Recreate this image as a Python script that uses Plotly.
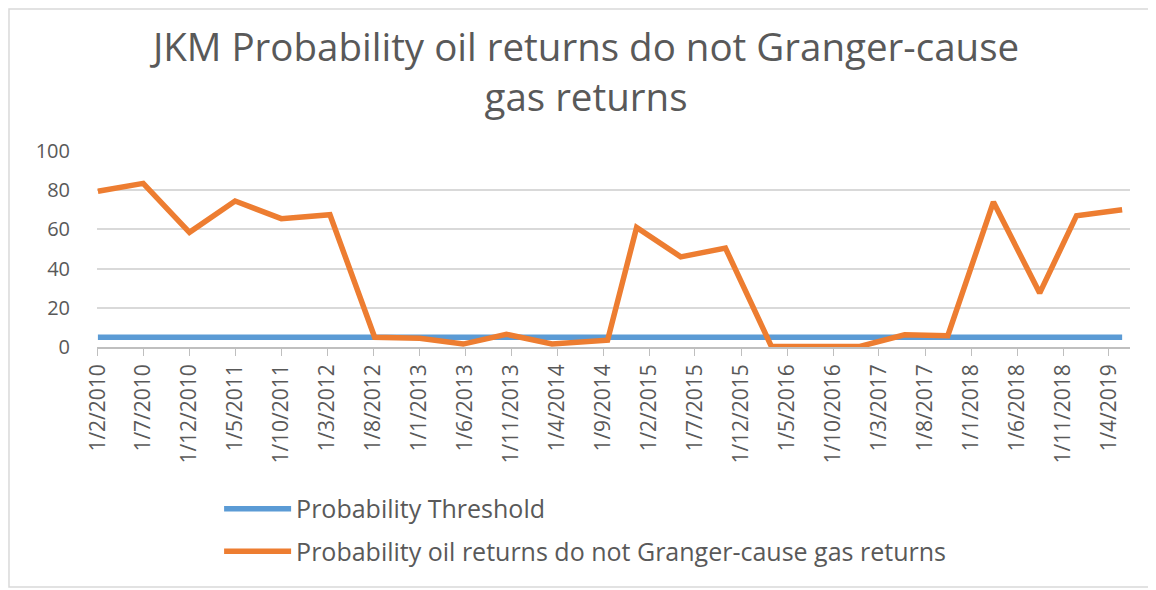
import plotly.graph_objects as go

# ---- data ----
point_dates = ["2010-02-01", "2010-07-01", "2010-12-01", "2011-05-01", "2011-10-01",
               "2012-03-10", "2012-08-05", "2013-01-01", "2013-05-25", "2013-10-15",
               "2014-03-15", "2014-09-15", "2014-12-20", "2015-05-15", "2015-10-10",
               "2016-03-10", "2016-08-05", "2016-12-28", "2017-05-25", "2017-10-15",
               "2018-03-15", "2018-08-15", "2018-12-15", "2019-05-15"]
prob_oil = [79.5, 83.5, 58.5, 74.5, 65.5, 67.5, 5, 4.5, 1.5, 6.5, 1.5, 3.5,
            61, 46, 50.5, 0.3, 0.2, 0.3, 6.2, 5.8, 74, 27.5, 67, 70]
threshold = [5, 5, 5, 5, 5, 5, 5, 5, 5, 5, 5, 5,
             5, 5, 5, 5, 5, 5, 5, 5, 5, 5, 5, 5]

tick_dates = ["2010-02-01", "2010-07-01", "2010-12-01", "2011-05-01", "2011-10-01",
              "2012-03-01", "2012-08-01", "2013-01-01", "2013-06-01", "2013-11-01",
              "2014-04-01", "2014-09-01", "2015-02-01", "2015-07-01", "2015-12-01",
              "2016-05-01", "2016-10-01", "2017-03-01", "2017-08-01", "2018-01-01",
              "2018-06-01", "2018-11-01", "2019-04-01"]
tick_labels = ["1/2/2010", "1/7/2010", "1/12/2010", "1/5/2011", "1/10/2011",
               "1/3/2012", "1/8/2012", "1/1/2013", "1/6/2013", "1/11/2013",
               "1/4/2014", "1/9/2014", "1/2/2015", "1/7/2015", "1/12/2015",
               "1/5/2016", "1/10/2016", "1/3/2017", "1/8/2017", "1/1/2018",
               "1/6/2018", "1/11/2018", "1/4/2019"]
y_ticks = [0, 20, 40, 60, 80, 100]

title_text = "JKM Probability oil returns do not Granger-cause<br>gas returns"
name_threshold = "Probability Threshold"
name_oil = "Probability oil returns do not Granger-cause gas returns"

FONT = "'Open Sans', Lato, sans-serif"
GRAY = "#595959"

fig = go.Figure()
fig.add_trace(go.Scatter(x=point_dates, y=threshold, mode="lines", name=name_threshold,
                         line=dict(color="#5b9bd5", width=5.5), legendgroup="a"))
fig.add_trace(go.Scatter(x=point_dates, y=prob_oil, mode="lines", name=name_oil,
                         line=dict(color="#ed7d31", width=5.5), legendgroup="b"))

fig.update_layout(
    width=1156, height=590,
    paper_bgcolor="white", plot_bgcolor="white",
    margin=dict(l=89, r=34, t=143, b=251),
    font=dict(family=FONT, color=GRAY),
    title=dict(text=title_text, x=0.5, xanchor="center", xref="container",
               y=0.911, yanchor="top",
               font=dict(family=FONT, size=38.5, color=GRAY)),
    showlegend=True,
    legend=dict(x=0.1182, y=-0.709, xanchor="left", yanchor="top",
                font=dict(size=25, color=GRAY), itemwidth=67,
                tracegroupgap=7, traceorder="grouped",
                bgcolor="rgba(0,0,0,0)"),
    shapes=[dict(type="rect", xref="paper", yref="paper",
                 x0=-0.0852, x1=1.0194, y0=-1.2245, y1=1.7245,
                 line=dict(color="#d9d9d9", width=1.5), layer="below")],
)
fig.update_xaxes(
    type="date", range=["2010-01-29", "2019-06-10"],
    tickmode="array", tickvals=tick_dates, ticktext=tick_labels,
    tickangle=-90, tickfont=dict(size=21, color=GRAY),
    showgrid=False, showline=True, linecolor="#bfbfbf", linewidth=1.5,
    ticks="outside", ticklen=7, tickcolor="#bfbfbf", zeroline=False,
)
fig.update_yaxes(
    range=[0, 100], tickvals=y_ticks, tickfont=dict(size=20, color=GRAY),
    showgrid=True, gridcolor="#d9d9d9", gridwidth=1.5, zeroline=False,
    showline=False, ticks="", ticklabelstandoff=26,
)

fig.write_html("out.html")
